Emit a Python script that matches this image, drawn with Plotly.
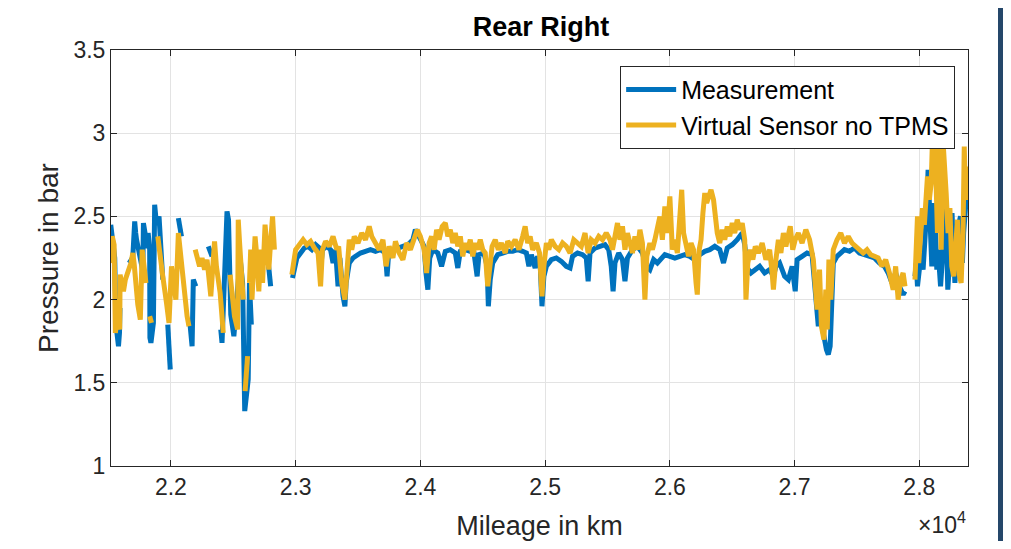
import plotly.graph_objects as go

# ---------------- data (mileage in km, pressure in bar) ----------------
meas_km = [
    21518, 21525, 21535, 21545, 21550, 21560, 21570, 21580, 21588, 21592, None,
    21660, 21680, 21695, 21710, 21718, 21725, 21765, 21775, 21780, 21790, 21800,
    21812, 21818, 21830, 21832, 21840, 21850, 21860, 21870, 21878, 21885, 21905,
    21915, 21925, 21935, None,
    21975, 21985, 21995, None,
    22060, 22070, 22085, None,
    22150, 22160, 22170, 22180, 22200, None,
    22300, 22315, 22330, None,
    22400, 22410, 22450, 22462, 22480, 22495, 22505, 22555, 22565, 22575,
    22592, 22600, 22610, 22620, 22630, 22640, 22645, None,
    22770, 22780, 22790, 22800, None,
    22975, 22990, 23010, 23040, 23070, 23100, 23130, 23160, 23190, 23200, 23215,
    23250, 23280, 23300, 23320, 23340, 23355, 23380, 23395, 23405, 23430, 23460,
    23490, 23520, 23560, 23600, 23640, 23680, 23720, 23733, 23745, 23780, 23820,
    23860, 23900, 23940, 23960, 23975, 24000, 24030, 24045, 24060, 24075, 24100,
    24140, 24170, 24200, 24240, 24280, 24300, 24320, 24360, 24400, 24430, 24455,
    24470, 24510, 24535, 24545, 24560, 24580, 24620, 24660, 24700, 24740, 24780,
    24820, 24850, 24870, 24890, 24920, 24940, 24960, 24975, 24990, 25010, 25050,
    25090, 25130, 25170, 25200, 25220, 25260, 25300, 25330, 25345, 25360, 25400,
    25440, 25480, 25510, 25530, 25545, 25560, 25590, 25620, 25640, 25660, 25700,
    25740, 25780, 25810, 25840, 25870, 25900, 25930, 25960, 26000, 26040, 26080,
    26120, 26160, 26200, 26240, 26280, 26320, 26360, 26400, 26430, 26460, 26500,
    26540, 26580, 26600, 26620, 26650, 26680, 26720, 26760, 26800, 26830, 26850,
    26880, 26920, 26950, 26980, 27005, 27020, 27060, 27100, 27140, 27160, 27175,
    27190, 27205, 27230, 27255, 27270, 27285, 27295, 27310, 27340, 27370, 27400,
    27440, 27480, 27520, 27560, 27600, 27640, 27680, 27720, 27750, 27780, 27810,
    27840, 27870, 27885, None,
    27965, 27975, 27985, 28000, 28015, 28030, 28045, 28060, 28070, 28080, 28090,
    28100, 28110, 28120, 28130, 28140, 28150, 28160, 28170, 28185, 28200, 28210,
    28220, 28228, 28240, 28250, 28262, 28275, 28285, 28300, 28315, 28330, 28345,
    28355, 28365, 28375, 28385, 28392,
]
meas_bar = [
    2.45, 2.40, 2.33, 2.27, 2.25, 1.85, 1.74, 1.72, 1.80, 1.95, None,
    2.24, 2.23, 2.26, 2.47, 2.40, 2.36, 2.21, 2.17, 2.46, 2.40, 2.33,
    2.31, 2.40, 2.30, 1.77, 1.74, 1.80, 1.86, 2.57, 2.52, 2.45, 2.50,
    2.38, 2.22, 2.12, None,
    1.85, 1.70, 1.58, None,
    2.49, 2.42, 2.38, None,
    1.88, 1.78, 1.72, 2.12, 2.08, None,
    2.32, 2.28, 2.26, None,
    1.82, 1.74, 2.53, 2.48, 1.91, 1.84, 1.78, 2.25, 2.12, 2.10,
    1.33, 1.40, 1.48, 1.52, 2.10, 1.95, 1.85, None,
    2.30, 2.24, 2.12, 2.08, None,
    2.13, 2.20, 2.25, 2.28, 2.31, 2.32, 2.30, 2.33, 2.31, 2.18, 2.30,
    2.32, 2.30, 2.22, 2.30, 2.08, 2.25, 2.02, 1.96, 2.10, 2.22, 2.25,
    2.27, 2.28, 2.29, 2.30, 2.29, 2.30, 2.28, 2.14, 2.27, 2.30, 2.31,
    2.32, 2.33, 2.36, 2.42, 2.40, 2.36, 2.32, 2.16, 2.06, 2.25, 2.30,
    2.28, 2.20, 2.29, 2.30, 2.28, 2.19, 2.29, 2.30, 2.29, 2.28, 2.14,
    2.27, 2.28, 2.20, 1.96, 2.12, 2.22, 2.27, 2.28, 2.29, 2.29, 2.30,
    2.29, 2.28, 2.20, 2.27, 2.19, 2.26, 2.22, 1.96, 2.14, 2.20, 2.24,
    2.25, 2.23, 2.20, 2.19, 2.26, 2.28, 2.27, 2.25, 2.11, 2.28, 2.31,
    2.32, 2.33, 2.30, 2.20, 2.05, 2.22, 2.28, 2.24, 2.11, 2.25, 2.30,
    2.32, 2.28, 2.20, 2.18, 2.24, 2.22, 2.25, 2.27, 2.26, 2.25, 2.26,
    2.27, 2.26, 2.24, 2.27, 2.29, 2.30, 2.32, 2.30, 2.22, 2.31, 2.33,
    2.36, 2.40, 2.33, 2.19, 2.16, 2.18, 2.20, 2.16, 2.18, 2.14, 2.20,
    2.22, 2.14, 2.12, 2.20, 2.05, 2.24, 2.26, 2.28, 2.27, 2.10, 1.96,
    1.84, 1.98, 1.80, 1.70, 1.67, 1.72, 1.90, 2.22, 2.26, 2.28, 2.30,
    2.29, 2.31, 2.28, 2.27, 2.26, 2.25, 2.22, 2.20, 2.16, 2.10, 2.16,
    2.08, 2.03, 2.05, None,
    2.14, 2.22, 2.08, 2.16, 2.28, 2.18, 2.35, 2.55, 2.78, 2.50, 2.30,
    2.20, 2.45, 2.58, 2.40, 2.18, 2.30, 2.12, 2.08, 2.25, 2.50, 2.58,
    2.30, 2.06, 2.20, 2.40, 2.52, 2.28, 2.10, 2.30, 2.45, 2.50, 2.22,
    2.40, 2.55, 2.60, 2.70, 2.66,
]

virt_km = [
    21510, 21520, 21530, 21545, 21555, 21565, 21575, 21590,
    21593, 21605, 21620, 21635, 21650, 21665, 21680, 21695, 21705,
    21735, 21745, 21755, 21770, 21785, 21800, None,
    21830, 21845, None,
    21895, 21905, 21920, 21935, 21965, 21975, 21985, 22005, 22020, 22040,
    22060, 22075, 22090, 22100, 22115, 22130, 22145, None,
    22195, 22210, 22230, 22250, 22270, 22290, 22305, 22320,
    22350, 22365, 22395, 22410, 22420, None,
    22475, 22490, 22510, 22535, 22540, 22550, 22565, 22580, None,
    22595, 22605, 22615, None,
    22630, 22640, 22650, 22675, 22690, 22705, 22720, 22735, 22755, 22770,
    22785, 22800, 22815, 22830, None,
    22970, 22985, 23000, 23030, 23060, 23090, 23120, 23150, 23180, 23200, 23215,
    23240, 23270, 23300, 23330, 23345, 23370, 23395, 23410, 23430, 23450, 23470,
    23500, 23530, 23560, 23590, 23610, 23640, 23670, 23700, 23725, 23750, 23780,
    23800, 23830, 23860, 23890, 23920, 23950, 23975, 24000, 24030, 24050, 24070,
    24090, 24110, 24130, 24150, 24175, 24200, 24220, 24240, 24260, 24280, 24300,
    24320, 24340, 24360, 24380, 24400, 24420, 24440, 24460, 24480, 24500, 24520,
    24540, 24555, 24575, 24600, 24625, 24650, 24680, 24700, 24730, 24760, 24790,
    24820, 24840, 24860, 24880, 24900, 24930, 24955, 24975, 24990, 25010, 25030,
    25050, 25080, 25110, 25140, 25170, 25200, 25230, 25260, 25290, 25320, 25345,
    25370, 25400, 25430, 25460, 25490, 25520, 25540, 25560, 25580, 25600, 25620,
    25640, 25660, 25680, 25700, 25720, 25740, 25760, 25780, 25800, 25815, 25840,
    25860, 25880, 25900, 25920, 25940, 25960, 25980, 26000, 26020, 26040, 26060,
    26075, 26085, 26095, 26110, 26130, 26150, 26170, 26190, 26210, 26220, 26235,
    26250, 26265, 26280, 26295, 26310, 26330, 26350, 26365, 26380, 26400, 26420,
    26440, 26460, 26480, 26500, 26520, 26540, 26560, 26580, 26600, 26610, 26625,
    26645, 26665, 26685, 26710, 26740, 26770, 26800, 26820, 26830, 26850, 26870,
    26890, 26910, 26930, 26950, 26965, 26985, 27005, 27030, 27060, 27090, 27120,
    27150, 27165, 27180, 27200, 27215, 27235, 27250, 27262, 27275, 27290, 27310,
    27340, 27370, 27400, 27430, 27460, 27490, 27520, 27550, 27580, 27610, 27640,
    27670, 27700, 27730, 27760, 27790, 27810, 27830, 27850, 27870, 27885, None,
    27965, 27975, 27985, 27995, 28010, 28025, 28040, 28055, 28065, 28080, 28095,
    28105, 28115, 28125, 28135, 28145, 28155, 28165, 28175, 28190, 28200, 28215,
    28230, 28245, 28260, 28275, 28290, 28305, 28320, 28335, 28350, 28360, 28370,
    28380, 28392,
]
virt_bar = [
    2.22, 2.30, 2.38, 2.33, 1.80, 1.86, 1.88, 1.82,
    2.15, 2.10, 2.05, 2.12, 2.15, 2.18, 2.22, 2.28, 2.22,
    1.97, 1.90, 1.88, 2.30, 2.20, 2.10, None,
    1.90, 1.86, None,
    2.38, 2.30, 2.20, 2.14, 1.98, 1.92, 1.86, 2.20, 2.10, 2.00,
    2.40, 2.28, 2.18, 2.15, 2.00, 1.90, 1.84, None,
    2.30, 2.25, 2.20, 2.25, 2.18, 2.24, 2.10, 2.02,
    2.35, 2.20, 2.04, 1.90, 1.80, None,
    2.15, 2.00, 1.90, 1.82, 2.48, 2.35, 2.20, 2.00, None,
    1.45, 1.55, 1.66, None,
    2.10, 2.30, 2.00, 2.38, 2.25, 2.05, 2.30, 2.10, 2.45, 2.25,
    2.18, 2.35, 2.50, 2.30, None,
    2.15, 2.25, 2.30, 2.33, 2.36, 2.33, 2.35, 2.31, 2.28, 2.08, 2.30,
    2.35, 2.32, 2.38, 2.30, 2.32, 2.10, 2.00, 2.20, 2.36, 2.30, 2.38,
    2.34, 2.40, 2.36, 2.44, 2.38, 2.34, 2.30, 2.36, 2.20, 2.32, 2.25,
    2.35, 2.28, 2.24, 2.34, 2.30, 2.38, 2.42, 2.38, 2.30, 2.16, 2.34,
    2.38, 2.30, 2.42, 2.36, 2.44, 2.46, 2.38, 2.42, 2.34, 2.40, 2.32,
    2.38, 2.26, 2.34, 2.30, 2.36, 2.26, 2.34, 2.30, 2.36, 2.30, 2.28,
    2.08, 2.22, 2.32, 2.36, 2.30, 2.34, 2.28, 2.35, 2.32, 2.36, 2.30,
    2.38, 2.44, 2.34, 2.38, 2.30, 2.34, 2.28, 2.02, 2.20, 2.34, 2.30,
    2.36, 2.32, 2.30, 2.34, 2.32, 2.28, 2.36, 2.34, 2.32, 2.40, 2.28,
    2.36, 2.34, 2.38, 2.36, 2.40, 2.36, 2.30, 2.40, 2.46, 2.36, 2.44,
    2.30, 2.40, 2.34, 2.28, 2.38, 2.30, 2.42, 2.34, 2.00, 2.26, 2.34,
    2.30, 2.36, 2.44, 2.50, 2.36, 2.56, 2.40, 2.62, 2.30, 2.36, 2.28,
    2.42, 2.55, 2.66, 2.40, 2.34, 2.26, 2.34, 2.30, 2.10, 2.03, 2.30,
    2.36, 2.52, 2.64, 2.58, 2.62, 2.66, 2.60, 2.50, 2.40, 2.34, 2.42,
    2.36, 2.44, 2.38, 2.46, 2.40, 2.48, 2.42, 2.46, 2.36, 2.00, 2.22,
    2.30, 2.24, 2.32, 2.28, 2.34, 2.24, 2.30, 2.16, 2.06, 2.24, 2.36,
    2.28, 2.40, 2.32, 2.38, 2.44, 2.30, 2.36, 2.40, 2.34, 2.42, 2.36,
    2.24, 2.08, 1.94, 2.18, 1.84, 1.76, 2.06, 1.82, 2.24, 2.00, 2.30,
    2.36, 2.40, 2.34, 2.38, 2.34, 2.32, 2.30, 2.28, 2.30, 2.27, 2.26,
    2.25, 2.20, 2.24, 2.16, 2.06, 2.20, 2.00, 2.12, 2.16, 2.08, None,
    2.12, 2.35, 2.50, 2.22, 2.40, 2.55, 2.45, 2.62, 2.74, 2.60, 2.70,
    2.96, 2.70, 2.96, 2.65, 2.40, 2.95, 2.50, 2.30, 2.95, 2.75, 2.64,
    2.40, 2.55, 2.20, 2.14, 2.30, 2.48, 2.15, 2.10, 2.40, 2.92, 2.60,
    2.75, 2.80,
]

series_names = ["Measurement", "Virtual Sensor no TPMS"]
series_colors = ["#0072BD", "#EDB120"]

x_tick_vals = [22000, 23000, 24000, 25000, 26000, 27000, 28000]
x_tick_text = ["2.2", "2.3", "2.4", "2.5", "2.6", "2.7", "2.8"]
y_tick_vals = [1, 1.5, 2, 2.5, 3, 3.5]
y_tick_text = ["1", "1.5", "2", "2.5", "3", "3.5"]

FONT = "Liberation Sans, Arial, Helvetica, sans-serif"
AX = "#262626"

fig = go.Figure()
for xs, ys, name, col in [(meas_km, meas_bar, series_names[0], series_colors[0]),
                          (virt_km, virt_bar, series_names[1], series_colors[1])]:
    fig.add_trace(go.Scatter(
        x=xs, y=ys, name=name, mode="lines",
        line=dict(color=col, width=5),
        connectgaps=False,
    ))

axis_common = dict(
    showline=True, linecolor=AX, linewidth=1, mirror="ticks",
    ticks="inside", ticklen=6, tickcolor=AX, tickwidth=1,
    showgrid=True, gridcolor="#e3e3e3", gridwidth=1,
    zeroline=False, automargin=False,
    tickfont=dict(family=FONT, size=23, color=AX),
)

# The page body adds an 8px margin; the figure is sized so that the page
# does not overflow (no scrollbars) and the plot area lands where it should.
W, H = 995, 533
fig.update_layout(
    width=W, height=H,
    margin=dict(l=103, r=35, t=42, b=75, autoexpand=False),
    paper_bgcolor="white", plot_bgcolor="white",
    title=dict(text="<b>Rear Right</b>", x=533 / W, xanchor="center",
               y=1 - 19 / H, yanchor="middle",
               font=dict(family=FONT, size=27, color="black")),
    xaxis=dict(axis_common, range=[21520, 28390], tickvals=x_tick_vals,
               ticktext=x_tick_text,
               title=dict(text="Mileage in km", standoff=18,
                          font=dict(family=FONT, size=27, color=AX))),
    yaxis=dict(axis_common, range=[1, 3.5], tickvals=y_tick_vals,
               ticktext=y_tick_text,
               title=dict(text="Pressure in bar", standoff=6,
                          font=dict(family=FONT, size=28, color=AX))),
    legend=dict(x=0.985, y=0.962, xanchor="right", yanchor="top",
                bgcolor="white", bordercolor=AX, borderwidth=1,
                font=dict(family=FONT, size=25, color="black"),
                itemwidth=50, tracegroupgap=0),
    showlegend=True,
)

fig.add_annotation(text="\u00d710<sup>4</sup>", xref="paper", yref="paper",
                   x=1.0, y=-0.138, xanchor="right", yanchor="middle",
                   showarrow=False, font=dict(family=FONT, size=23, color=AX))

fig.add_shape(type="rect", xref="paper", yref="paper",
              x0=(990 - 103) / 857, x1=(W - 103) / 857 + 0.02,
              y0=-0.25, y1=1.15,
              fillcolor="#25476A", line=dict(width=0), layer="above")

fig.write_html("out.html")
